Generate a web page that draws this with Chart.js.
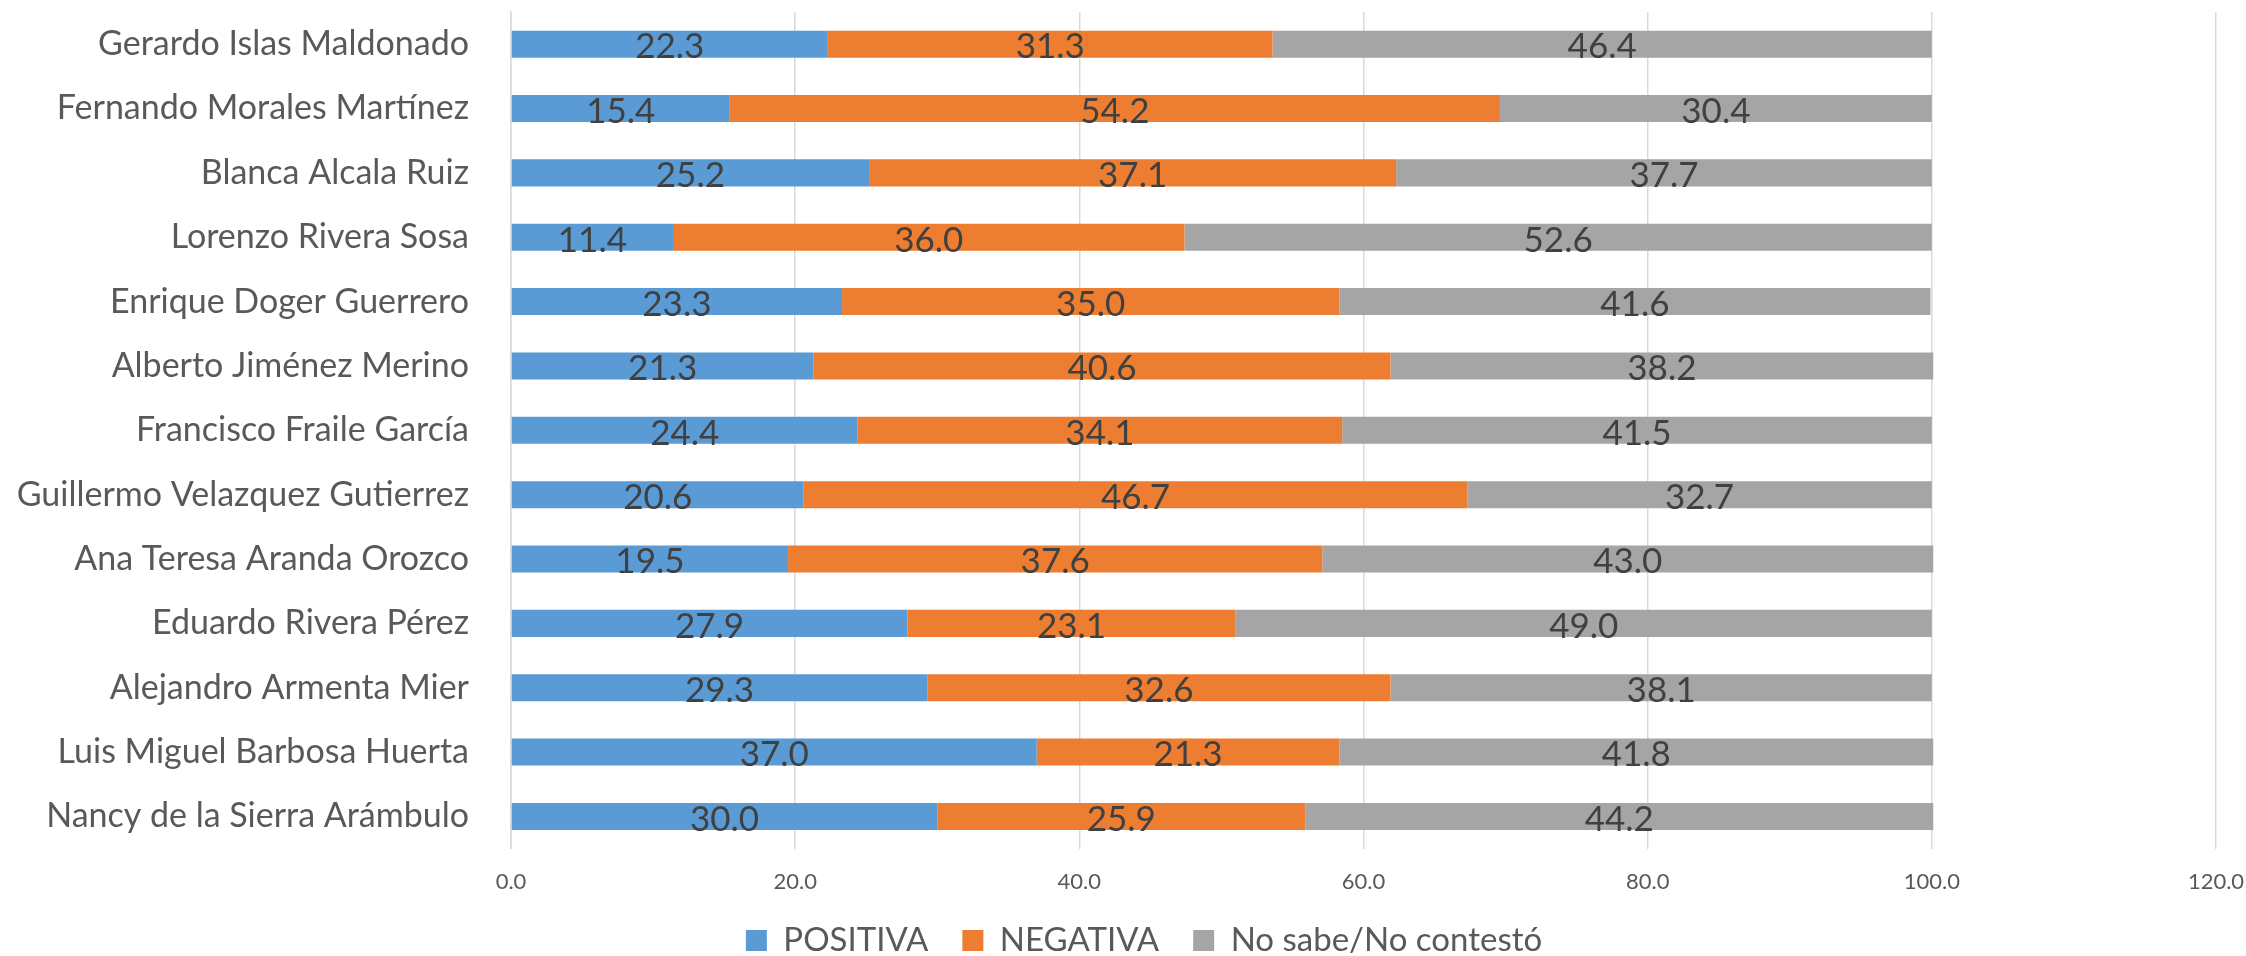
<!DOCTYPE html>
<html lang="es">
<head>
<meta charset="utf-8">
<title>Opinión de actores políticos</title>
<script src="https://cdn.jsdelivr.net/npm/chart.js@4.4.1/dist/chart.umd.min.js"></script>
<style>
  html, body { margin: 0; padding: 0; background: #fff; }
  #wrap { width: 2246px; height: 956px; position: relative; }
</style>
</head>
<body>
<div id="wrap"><canvas id="chart"></canvas></div>
<script>
const nombres = [
    'Gerardo Islas Maldonado',
    'Fernando Morales Martínez',
    'Blanca Alcala Ruiz',
    'Lorenzo Rivera Sosa',
    'Enrique Doger Guerrero',
    'Alberto Jiménez Merino',
    'Francisco Fraile García',
    'Guillermo Velazquez Gutierrez',
    'Ana Teresa Aranda Orozco',
    'Eduardo Rivera Pérez',
    'Alejandro Armenta Mier',
    'Luis Miguel Barbosa Huerta',
    'Nancy de la Sierra Arámbulo'
];

const positiva = [22.3, 15.4, 25.2, 11.4, 23.3, 21.3, 24.4, 20.6, 19.5, 27.9, 29.3, 37.0, 30.0];
const negativa = [31.3, 54.2, 37.1, 36.0, 35.0, 40.6, 34.1, 46.7, 37.6, 23.1, 32.6, 21.3, 25.9];
const noSabe   = [46.4, 30.4, 37.7, 52.6, 41.6, 38.2, 41.5, 32.7, 43.0, 49.0, 38.1, 41.8, 44.2];

const ejeMax = 120;
const ejePaso = 20;

const fuente = 'Lato, "Open Sans", sans-serif';

// numbers written in the middle of each bar segment
const etiquetas = {
    id: 'etiquetas',
    afterDatasetsDraw(chart) {
        const ctx = chart.ctx;
        ctx.save();
        ctx.font = '35px ' + fuente;
        ctx.fillStyle = '#404040';
        ctx.textAlign = 'center';
        ctx.textBaseline = 'middle';
        chart.data.datasets.forEach((ds, i) => {
            const meta = chart.getDatasetMeta(i);
            meta.data.forEach((bar, j) => {
                const p = bar.getProps(['x', 'y', 'base'], true);
                ctx.fillText(ds.data[j].toFixed(1), (p.x + p.base) / 2, p.y + 3);
            });
        });
        ctx.restore();
    }
};

// legend sits a little right of the canvas centre
const moverLeyenda = {
    id: 'moverLeyenda',
    afterLayout(chart) {
        const lg = chart.legend;
        if (!lg) return;
        lg.left += 36;
        lg.right += 36;
    }
};

const chart = document.querySelector('#chart').getContext('2d');

new Chart(chart, {
    type: 'bar',
    data: {
        labels: nombres,
        datasets: [
            { label: 'POSITIVA', data: positiva, backgroundColor: '#5B9BD5' },
            { label: 'NEGATIVA', data: negativa, backgroundColor: '#ED7D31' },
            { label: 'No sabe/No contestó', data: noSabe, backgroundColor: '#A5A5A5' }
        ]
    },
    options: {
        indexAxis: 'y',
        responsive: true,
        maintainAspectRatio: false,
        animation: false,
        layout: { padding: { top: 12, right: 30, left: 0, bottom: -11 } },
        datasets: {
            bar: { barPercentage: 0.42, categoryPercentage: 1.0, borderWidth: 0 }
        },
        scales: {
            x: {
                stacked: true,
                min: 0,
                max: ejeMax,
                ticks: {
                    stepSize: ejePaso,
                    callback: v => v.toFixed(1),
                    color: '#595959',
                    font: { family: fuente, size: 22 },
                    padding: 20
                },
                grid: { color: '#d9d9d9', lineWidth: 1.5, drawTicks: false },
                border: { display: false },
                afterFit(scale) {
                    // tick labels may spill into the blank space above the legend
                    scale.height -= 25;
                    scale.paddingLeft = 0;
                    scale.paddingRight = 0;
                }
            },
            y: {
                stacked: true,
                grid: { display: false },
                border: { color: '#d9d9d9', width: 1.5 },
                ticks: {
                    color: '#595959',
                    font: { family: fuente, size: 34 },
                    padding: 34
                },
                afterFit(scale) {
                    scale.width = 511;
                    scale.paddingTop = 0;
                    scale.paddingBottom = 0;
                }
            }
        },
        plugins: {
            legend: {
                position: 'bottom',
                labels: {
                    color: '#595959',
                    font: { family: fuente, size: 33 },
                    boxWidth: 21,
                    boxHeight: 21,
                    padding: 34
                }
            },
            tooltip: { enabled: false }
        }
    },
    plugins: [etiquetas, moverLeyenda]
});
</script>
</body>
</html>
